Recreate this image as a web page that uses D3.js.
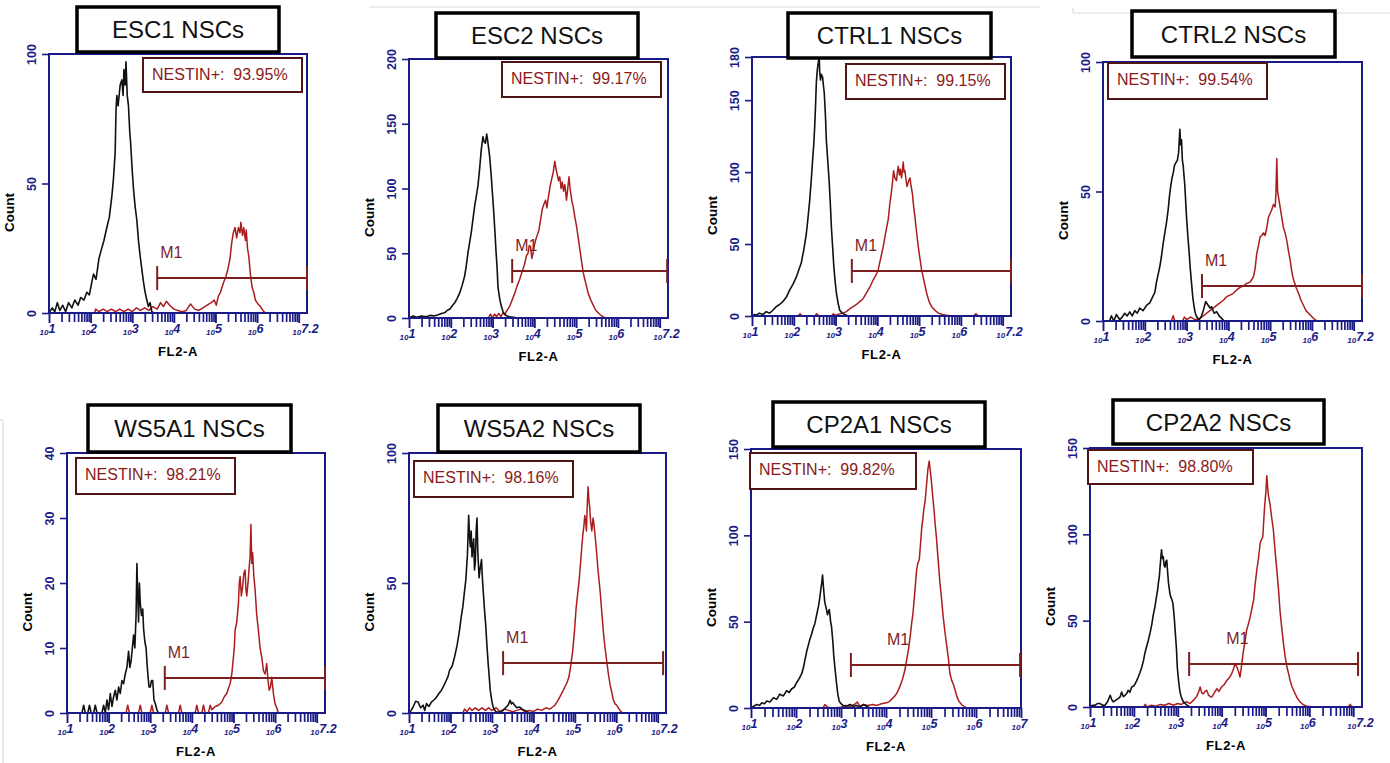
<!DOCTYPE html>
<html>
<head>
<meta charset="utf-8">
<script src="https://cdn.jsdelivr.net/npm/d3@7"></script>
<style>
body{margin:0;background:#fff}
svg{display:block;font-family:"Liberation Sans",Arial,sans-serif}
</style>
</head>
<body>
<svg id="fig" width="1390" height="763"></svg>
<script>
// panel text + axes
var titles = ['ESC1 NSCs','ESC2 NSCs','CTRL1 NSCs','CTRL2 NSCs','WS5A1 NSCs','WS5A2 NSCs','CP2A1 NSCs','CP2A2 NSCs']
var nestin = ['93.95%','99.17%','99.15%','99.54%','98.21%','98.16%','99.82%','98.80%']
var yMaxes = [100,200,180,100,40,100,150,150]
var yTickVals = [[0,50,100],[0,50,100,150,200],[0,50,100,150,180],[0,50,100],[0,10,20,30,40],[0,50,100],[0,50,100,150],[0,50,100,150]]
var xMaxExp = [7.2,7.2,7.2,7.2,7.2,7.2,7,7.2]
// M1 gate (log10 units, count level)
var gateFrom = [3.60,3.47,3.39,3.37,3.35,3.27,3.22,3.26]
var gateTo = [7.2,7.18,7.2,7.2,7.2,7.13,6.98,7.11]
var gateLevel = [13.5,36.3,31.3,13.5,5.4,19.2,24.9,24.9]

// histograms: [log10 FL2-A, count]
var blackEsc1 = [[1.0,0],[1.08,2],[1.14,0.5],[1.2,4],[1.26,1],[1.33,3],[1.4,0.5],[1.47,4],[1.55,2],[1.62,5],[1.7,3],[1.76,6],[1.84,5],[1.91,8],[1.97,7],[2.03,12],[2.07,15],[2.13,13],[2.2,21],[2.25,24],[2.32,28],[2.39,33],[2.45,37],[2.51,45],[2.55,52],[2.59,62],[2.61,78],[2.63,84],[2.66,80],[2.71,88],[2.75,90],[2.78,84],[2.8,94],[2.83,88],[2.85,97],[2.88,84],[2.91,80],[2.94,70],[2.96,66],[3.0,55],[3.03,48],[3.07,41],[3.11,36],[3.15,28],[3.19,22],[3.23,17],[3.27,12],[3.31,8],[3.35,5],[3.39,2.5],[3.43,4],[3.47,0.5],[3.52,0]]
var redEsc1 = [[2.1,0],[2.12,1.5],[2.2,0.5],[2.3,1.5],[2.4,0.5],[2.5,1.5],[2.6,0.5],[2.7,1.5],[2.8,0.5],[2.9,1.5],[3.0,0.5],[3.1,2],[3.2,1],[3.3,2],[3.4,1],[3.5,2.5],[3.6,1.5],[3.68,4],[3.75,2.5],[3.82,4.5],[3.9,3],[4.0,1.5],[4.1,1],[4.2,0.5],[4.3,1],[4.4,3.5],[4.5,1.5],[4.6,1],[4.7,2],[4.8,3],[4.9,4],[4.97,5],[5.02,3],[5.07,6.5],[5.12,8],[5.16,10],[5.2,12],[5.25,14],[5.3,17],[5.35,21],[5.39,27],[5.43,31],[5.47,33],[5.51,29],[5.55,33],[5.59,31],[5.61,35],[5.65,30],[5.68,33],[5.72,28],[5.74,32],[5.77,25],[5.8,22],[5.84,15],[5.88,10],[5.92,8],[5.96,5],[6.02,3.5],[6.08,2.5],[6.14,1],[6.2,0]]
var blackEsc2 = [[1.0,0],[1.1,1.5],[1.18,0.5],[1.3,1.5],[1.41,1],[1.5,2],[1.6,1.5],[1.7,2.5],[1.78,3.5],[1.85,4],[1.92,6],[1.98,7],[2.05,10],[2.1,12],[2.15,15],[2.21,19],[2.27,25],[2.33,32],[2.37,40],[2.41,50],[2.45,58],[2.49,66],[2.53,76],[2.57,86],[2.61,94],[2.65,102],[2.69,115],[2.73,130],[2.77,140],[2.8,136],[2.83,135],[2.86,142],[2.88,138],[2.91,130],[2.93,125],[2.97,109],[3.0,95],[3.03,81],[3.06,65],[3.08,53],[3.11,38],[3.13,24],[3.17,15],[3.21,9],[3.25,5],[3.29,2.6],[3.35,1.5],[3.41,1],[3.5,0.5],[3.6,0]]
var redEsc2 = [[2.9,0],[2.95,3],[3.0,0.5],[3.05,3],[3.1,1],[3.15,3.5],[3.2,1],[3.25,4],[3.3,3],[3.33,5],[3.37,7],[3.41,9],[3.47,14],[3.53,19],[3.59,25],[3.65,30],[3.71,36],[3.77,42],[3.81,48],[3.85,50],[3.88,56],[3.91,55],[3.94,46],[3.97,50],[4.0,56],[4.03,60],[4.07,64],[4.11,68],[4.15,76],[4.19,84],[4.23,88],[4.27,91],[4.3,85],[4.33,92],[4.36,98],[4.38,102],[4.42,108],[4.45,112],[4.49,121],[4.52,115],[4.54,112],[4.58,106],[4.61,109],[4.64,100],[4.67,105],[4.7,98],[4.73,103],[4.77,91],[4.8,100],[4.83,109],[4.86,99],[4.9,90],[4.93,86],[4.97,78],[5.01,71],[5.05,62],[5.09,53],[5.13,44],[5.17,35],[5.23,27],[5.29,19],[5.35,14],[5.41,10],[5.47,6],[5.53,4],[5.58,2.5],[5.64,1],[5.7,0]]
var blackCtrl1 = [[1.0,0],[1.06,1],[1.1,0.5],[1.18,2],[1.26,1],[1.34,3],[1.42,2],[1.5,4],[1.58,6.5],[1.66,8],[1.74,10],[1.82,13],[1.9,18],[1.98,22],[2.06,27],[2.12,32],[2.18,37],[2.24,46],[2.3,57],[2.34,68],[2.38,80],[2.42,95],[2.45,108],[2.48,120],[2.5,131],[2.52,145],[2.54,162],[2.56,170],[2.58,175],[2.61,180],[2.62,170],[2.64,164],[2.66,168],[2.69,166],[2.71,160],[2.73,155],[2.76,138],[2.78,122],[2.82,105],[2.85,92],[2.88,75],[2.9,62],[2.93,48],[2.96,34],[2.99,24],[3.02,16],[3.06,9],[3.1,4],[3.16,2],[3.22,1],[3.3,0]]
var redCtrl1 = [[2.1,0],[2.15,1.5],[2.2,0],[2.5,0],[2.55,1.5],[2.6,0],[2.9,0],[2.95,1.5],[3.0,0.5],[3.1,1.5],[3.18,2],[3.26,3],[3.34,5],[3.42,6.5],[3.5,8],[3.58,10],[3.66,12],[3.74,16],[3.82,20],[3.9,25],[3.96,28],[4.02,32],[4.08,40],[4.14,48],[4.2,58],[4.26,67],[4.3,78],[4.34,87],[4.37,95],[4.39,101],[4.42,96],[4.46,94],[4.48,100],[4.5,104],[4.53,98],[4.55,102],[4.58,96],[4.62,107],[4.64,100],[4.66,101],[4.69,94],[4.71,90],[4.74,93],[4.78,96],[4.81,90],[4.84,85],[4.87,76],[4.9,69],[4.94,58],[4.98,48],[5.02,40],[5.06,32],[5.12,24],[5.18,16],[5.24,10],[5.3,6.5],[5.38,4],[5.46,2],[5.56,1],[5.66,0.5],[5.8,0],[6.3,0],[6.36,1.5],[6.42,0]]
var blackCtrl2 = [[1.16,0],[1.2,2],[1.26,0],[1.32,2.5],[1.4,0.5],[1.46,1.5],[1.52,3],[1.58,2],[1.64,3.5],[1.7,2],[1.76,4],[1.82,3],[1.88,5],[1.96,4],[2.04,6],[2.12,7],[2.18,9],[2.24,11],[2.28,15],[2.32,18],[2.36,21],[2.4,25],[2.44,30],[2.48,34],[2.52,38],[2.56,43],[2.59,48],[2.62,52],[2.65,55],[2.68,57],[2.71,60],[2.74,61],[2.78,62],[2.81,65],[2.84,74],[2.86,68],[2.88,70],[2.9,62],[2.92,60],[2.94,56],[2.96,52],[2.98,46],[3.0,40],[3.03,33],[3.06,27],[3.09,20],[3.12,14.5],[3.15,9],[3.18,5.5],[3.21,3],[3.24,1.7],[3.3,0.4],[3.36,2],[3.4,4],[3.46,7.5],[3.52,6],[3.56,5],[3.6,5.5],[3.66,3],[3.72,3.6],[3.78,2],[3.84,1],[3.9,0]]
var redCtrl2 = [[2.64,0],[2.68,2],[2.72,0],[2.9,0],[2.95,1.5],[3.0,0.5],[3.1,1.5],[3.2,0.5],[3.32,1],[3.4,2],[3.48,3],[3.56,4],[3.64,5],[3.72,6],[3.8,7],[3.88,8],[3.96,9.4],[4.04,10],[4.12,10.7],[4.2,12],[4.28,13],[4.36,13.5],[4.44,14.5],[4.52,15],[4.6,17],[4.64,20],[4.68,26],[4.72,29],[4.76,32.5],[4.8,33],[4.84,34],[4.88,33],[4.92,36],[4.96,40],[5.0,41.5],[5.04,43],[5.08,45],[5.12,44],[5.14,49],[5.16,62.7],[5.18,50],[5.21,47],[5.24,44],[5.28,40],[5.32,36],[5.36,34],[5.4,31],[5.44,27],[5.48,23.5],[5.52,19],[5.56,16],[5.62,13],[5.68,10.7],[5.74,8],[5.8,6],[5.86,4],[5.92,3],[5.98,2],[6.04,1],[6.12,0]]
var blackWs1 = [[1.36,0],[1.4,1.2],[1.44,0],[1.5,0],[1.54,1.2],[1.58,0],[1.64,0],[1.68,1.2],[1.72,0],[1.84,0],[1.88,1.2],[1.92,0],[1.96,2],[2.0,0.5],[2.04,3],[2.08,1],[2.12,2.5],[2.16,3.5],[2.2,2],[2.24,4],[2.28,3],[2.32,5],[2.36,4.5],[2.4,6],[2.44,7],[2.48,9.5],[2.51,7],[2.54,8],[2.57,10],[2.6,12],[2.63,10],[2.66,15],[2.68,23],[2.7,18],[2.72,14],[2.74,20],[2.76,17],[2.79,15],[2.82,16],[2.84,13],[2.87,11],[2.9,10],[2.93,7],[2.97,4],[3.0,4],[3.03,5],[3.06,5],[3.09,2],[3.12,1.5],[3.16,0.5],[3.2,0]]
var redWs1 = [[2.42,0],[2.46,1.2],[2.5,0],[2.72,0],[2.76,1.2],[2.8,0],[3.0,0],[3.04,1.2],[3.08,0],[3.36,0],[3.4,1.2],[3.44,0],[3.68,0],[3.72,1.2],[3.76,0],[4.08,0],[4.12,1.2],[4.16,0],[4.24,0],[4.28,1.2],[4.32,0],[4.4,0],[4.44,1.2],[4.48,0.5],[4.56,1],[4.64,1.2],[4.72,1.7],[4.78,2.5],[4.84,3],[4.88,3.8],[4.92,4.5],[4.96,6],[5.0,8.6],[5.02,10],[5.04,12.7],[5.08,14],[5.12,16.9],[5.14,20],[5.16,21],[5.19,18],[5.22,19.4],[5.25,21.5],[5.28,22],[5.3,19],[5.32,18],[5.35,20],[5.38,22.6],[5.4,24],[5.42,29],[5.44,23],[5.46,24.7],[5.49,21],[5.52,19],[5.56,15],[5.6,12.7],[5.64,10],[5.68,8.6],[5.72,6.5],[5.76,6],[5.8,7.6],[5.83,5],[5.86,3.5],[5.89,4],[5.92,5.5],[5.96,3],[6.0,1.4],[6.04,0.8],[6.08,0]]
var blackWs2 = [[1.0,0],[1.05,1],[1.1,2.3],[1.16,4.5],[1.22,4.2],[1.28,2],[1.34,3],[1.38,1],[1.42,3.6],[1.48,2.5],[1.54,4.2],[1.6,5],[1.66,6],[1.72,7.5],[1.78,8.7],[1.84,10.5],[1.9,12.6],[1.94,14],[1.98,16.5],[2.04,18],[2.1,21.6],[2.16,26],[2.22,32],[2.26,37],[2.3,41],[2.34,47],[2.37,51],[2.39,56],[2.41,61],[2.44,76],[2.46,68],[2.48,64],[2.5,70],[2.52,60],[2.54,64],[2.56,67],[2.58,55],[2.6,58],[2.62,70],[2.64,75],[2.66,62],[2.69,52],[2.72,56],[2.75,59],[2.77,52],[2.79,47],[2.82,40],[2.85,34],[2.88,26],[2.91,19],[2.94,13],[2.96,8.7],[3.0,4.5],[3.03,2.3],[3.07,1],[3.11,0.4],[3.2,0.5],[3.27,1],[3.33,2],[3.39,3],[3.44,4.9],[3.47,3.5],[3.5,4],[3.55,3],[3.6,2],[3.67,2.3],[3.73,1.5],[3.79,1],[3.85,0.5],[3.91,0]]
var redWs2 = [[2.3,0],[2.34,1.5],[2.4,0.5],[2.46,2],[2.52,1],[2.6,2],[2.68,1],[2.76,2],[2.84,1],[2.92,2],[3.0,1],[3.1,2],[3.2,0.5],[3.3,1.5],[3.4,1],[3.5,0.5],[3.6,1],[3.7,1.5],[3.8,0.5],[3.9,1],[4.0,0.5],[4.1,1.5],[4.2,1],[4.3,2],[4.4,1.5],[4.48,2.5],[4.52,3],[4.58,4.5],[4.64,6.2],[4.7,8],[4.76,10],[4.82,12],[4.86,14],[4.9,18],[4.95,24],[4.99,31],[5.03,40],[5.07,46],[5.11,52],[5.15,60],[5.19,68],[5.22,72],[5.24,76],[5.26,74],[5.28,70],[5.3,80],[5.32,87],[5.34,82],[5.36,79],[5.38,74],[5.41,70],[5.44,75],[5.46,73],[5.49,68],[5.52,63],[5.56,55],[5.61,47],[5.65,39],[5.69,31],[5.73,25],[5.77,20],[5.81,15],[5.85,11],[5.89,8],[5.93,5],[5.97,3.5],[6.01,3],[6.05,2],[6.09,1],[6.15,0]]
var blackCp1 = [[1.0,0],[1.06,1],[1.13,2],[1.19,1.5],[1.24,3],[1.3,2.5],[1.35,4],[1.42,3.5],[1.5,6],[1.57,5],[1.64,8],[1.72,7],[1.79,10],[1.85,9],[1.9,11],[1.96,12],[2.01,14.5],[2.07,17],[2.13,20],[2.17,24],[2.2,28],[2.24,33],[2.27,36],[2.31,40],[2.35,43],[2.38,46],[2.42,49],[2.46,54],[2.5,59],[2.53,64],[2.55,68.5],[2.57,72],[2.59,77],[2.61,70],[2.64,61],[2.67,58],[2.7,54],[2.72,56],[2.74,57],[2.77,50],[2.79,47],[2.82,38],[2.84,30],[2.87,22],[2.9,14.5],[2.93,8],[2.96,4],[3.0,2.5],[3.05,1.4],[3.12,1],[3.2,2],[3.27,1],[3.35,1.5],[3.42,0.5],[3.5,2],[3.57,1],[3.64,0]]
var redCp1 = [[2.6,0],[2.64,2],[2.7,0.5],[2.8,0],[3.0,0.5],[3.1,1.5],[3.2,1],[3.3,2],[3.36,3.5],[3.42,1],[3.5,2],[3.6,1.5],[3.7,2],[3.8,1.5],[3.9,2.5],[4.01,3],[4.09,4],[4.14,5.5],[4.2,7],[4.25,9],[4.31,12.5],[4.37,17],[4.42,22],[4.46,28],[4.5,34],[4.54,42],[4.57,49],[4.6,55],[4.62,61],[4.65,70],[4.68,80],[4.71,84],[4.74,86],[4.77,96],[4.79,103],[4.82,110],[4.84,115],[4.87,120],[4.89,126],[4.91,132],[4.93,138],[4.96,143],[4.99,136],[5.01,131],[5.04,122],[5.07,114],[5.09,107],[5.12,99],[5.14,92],[5.17,82],[5.2,72],[5.24,62],[5.27,53],[5.31,44],[5.35,36],[5.39,28],[5.42,20],[5.46,16],[5.5,13.5],[5.54,10],[5.57,7],[5.62,4],[5.68,2],[5.73,1],[5.79,0]]
var blackCp2 = [[1.0,0],[1.06,1],[1.11,1],[1.17,2],[1.23,2],[1.29,1],[1.34,1],[1.4,3],[1.46,6.8],[1.5,4],[1.53,3],[1.59,4],[1.65,5],[1.69,6],[1.72,8.7],[1.76,6],[1.8,6.8],[1.84,8],[1.87,9.7],[1.91,8.5],[1.95,11.6],[1.99,12],[2.03,13.5],[2.06,15],[2.1,17.4],[2.14,20],[2.18,23],[2.22,27],[2.25,31],[2.29,35],[2.33,38.7],[2.37,43],[2.41,48],[2.44,53],[2.48,58],[2.51,63],[2.54,67.7],[2.56,72],[2.58,75.4],[2.6,82],[2.63,91],[2.65,86],[2.67,87],[2.69,82],[2.71,81],[2.73,84],[2.75,85],[2.77,78],[2.79,71.6],[2.82,66],[2.84,63.8],[2.87,62],[2.89,60],[2.92,52],[2.94,44.5],[2.97,34],[2.99,23],[3.02,15],[3.05,8.7],[3.09,5],[3.13,3],[3.17,2],[3.21,1],[3.28,0]]
var redCp2 = [[2.22,0],[2.26,1.5],[2.3,0],[2.4,1],[2.5,0.5],[2.6,1.5],[2.7,1],[2.8,2],[2.9,1],[3.0,2],[3.08,1.5],[3.15,2.5],[3.21,3],[3.28,2],[3.36,4],[3.43,6],[3.48,9],[3.51,11.6],[3.55,8],[3.59,7.7],[3.62,9],[3.66,9.7],[3.7,7],[3.74,6],[3.78,5.8],[3.83,8],[3.89,10.6],[3.94,9],[4.0,11.6],[4.06,13],[4.12,15.5],[4.18,17],[4.23,19.3],[4.27,22],[4.31,25],[4.35,23],[4.38,21],[4.42,17.4],[4.46,25],[4.5,33],[4.54,39],[4.57,44.5],[4.61,48],[4.65,52],[4.69,57],[4.73,62],[4.76,70],[4.8,79],[4.84,86],[4.88,95],[4.91,97],[4.94,98.6],[4.96,108],[4.98,116],[5.01,125],[5.03,134],[5.05,127],[5.07,122],[5.1,118],[5.12,114],[5.15,108],[5.18,102.5],[5.22,90],[5.26,79],[5.3,67],[5.33,56],[5.37,46],[5.41,36.7],[5.45,29],[5.49,23],[5.53,19],[5.56,15.5],[5.6,12],[5.64,9.7],[5.68,7.5],[5.71,5.8],[5.77,3.5],[5.83,2],[5.89,1],[5.94,0.4],[6.1,0],[6.88,0],[6.93,1.5],[6.98,0]]

var blackSeries = [blackEsc1,blackEsc2,blackCtrl1,blackCtrl2,blackWs1,blackWs2,blackCp1,blackCp2]
var redSeries = [redEsc1,redEsc2,redCtrl1,redCtrl2,redWs1,redWs2,redCp1,redCp2]

// page layout: plot rect [l,t,r,b], title box, nestin box, M1 label offset
var layout = [
	{plot:[49,54,307,313], title:[77,7,279,52], box:[143,58,302,92], m1dx:3},
	{plot:[409,59,668,318], title:[436,13,638,58], box:[502,62,661,97], m1dx:3},
	{plot:[752,57,1011,316], title:[788,13,991,58], box:[846,64,1005,99], m1dx:3},
	{plot:[1103,62,1362,321], title:[1132,11,1335,57], box:[1108,63,1267,99], m1dx:3},
	{plot:[67,453,325,713], title:[88,405,291,452], box:[76,458,235,494], m1dx:3},
	{plot:[409,453,666,713], title:[438,405,640,452], box:[414,461,573,497], m1dx:3},
	{plot:[751,449,1021,708], title:[773,402,985,447], box:[750,453,916,489], m1dx:36},
	{plot:[1090,448,1362,707], title:[1113,400,1324,444], box:[1088,450,1253,484], m1dx:37}
]

var navy = '#1b1b87'
var redLine = '#ab1d1d'
var maroon = '#7d1f1f'
var svg = d3.select('#fig')

// faint scan edges
var edges = [[369,7,1040,7],[1073,13,1390,13],[1073,8,1073,13],[3,420,3,763],[0,420,3,420]]
svg.selectAll('line.edge').data(edges).enter().append('line').attr('class','edge')
	.attr('x1',d=>d[0]).attr('y1',d=>d[1]).attr('x2',d=>d[2]).attr('y2',d=>d[3])
	.attr('stroke','#dcdcdc').attr('stroke-width',1.2)

function draw(i){
	var L = layout[i]
	var l = L.plot[0], t = L.plot[1], r = L.plot[2], b = L.plot[3]
	var xmax = xMaxExp[i]
	var x = d3.scaleLog().domain([10, Math.pow(10,xmax)]).range([l,r])
	var y = d3.scaleLinear().domain([0, yMaxes[i]]).range([b,t])
	var g = svg.append('g').attr('class','panel'+i)

	g.append('clipPath').attr('id','clip'+i).append('rect')
		.attr('x',l).attr('y',t-1).attr('width',r-l).attr('height',b-t+1)

	// minor / major log ticks
	var minor = [], major = []
	for (var k=1;k<=Math.floor(xmax);k++){
		for (var m=1;m<10;m++){
			var v = m*Math.pow(10,k)
			if (Math.log10(v) <= xmax+1e-9) (m==1 ? major : minor).push(v)
		}
	}
	var xa = g.append('g').attr('transform','translate(0,'+b+')')
		.call(d3.axisBottom(x).tickValues(minor).tickFormat('').tickSize(9).tickSizeOuter(0))
	xa.select('.domain').remove()
	xa.selectAll('line').attr('stroke',navy).attr('stroke-width',1.7)
	var xm = g.append('g').attr('transform','translate(0,'+b+')')
		.call(d3.axisBottom(x).tickValues(major).tickFormat('').tickSize(10).tickSizeOuter(0))
	xm.select('.domain').remove()
	xm.selectAll('line').attr('stroke',navy).attr('stroke-width',1.9)

	// decade labels like 10^1 ... 10^7.2
	var labExps = d3.range(1, Math.floor(xmax)).concat([xmax])
	var xl = g.append('g').attr('transform','translate(0,'+b+')')
		.call(d3.axisBottom(x).tickValues(labExps.map(e=>Math.pow(10,e))).tickSize(0).tickFormat(''))
	xl.select('.domain').remove()
	xl.selectAll('text').each(function(d,j){
		var tx = d3.select(this).attr('y',20).attr('dy',null).attr('dx',-2)
			.attr('text-anchor','middle').attr('fill',navy)
			.attr('font-family','"Liberation Sans",Arial,sans-serif')
			.attr('font-weight','bold').attr('font-style','italic')
		tx.append('tspan').attr('font-size',8).attr('dy',2).text('10')
		tx.append('tspan').attr('font-size',12.5).attr('dy',-2).text(labExps[j])
	})

	// y axis: short ticks, rotated labels
	var ya = g.append('g').attr('transform','translate('+l+',0)')
		.call(d3.axisLeft(y).tickValues(yTickVals[i]).tickSize(7).tickFormat(d3.format('d')))
	ya.select('.domain').remove()
	ya.attr('font-family','"Liberation Sans",Arial,sans-serif').attr('font-size',12.5)
	ya.selectAll('line').attr('stroke',navy).attr('stroke-width',1.6)
	ya.selectAll('text').attr('transform','rotate(-90)').attr('x',0).attr('y',-13)
		.attr('dy',null).attr('text-anchor','middle').attr('fill',navy).attr('font-weight','bold')

	// curves
	var line = d3.line().x(d=>x(Math.pow(10,d[0]))).y(d=>y(d[1]))
	var cg = g.append('g').attr('clip-path','url(#clip'+i+')')
	cg.append('path').datum(redSeries[i]).attr('d',line)
		.attr('fill','none').attr('stroke',redLine).attr('stroke-width',1.5).attr('stroke-linejoin','round')
	cg.append('path').datum(blackSeries[i]).attr('d',line)
		.attr('fill','none').attr('stroke','#111').attr('stroke-width',1.6).attr('stroke-linejoin','round')

	// frame
	g.append('rect').attr('x',l).attr('y',t).attr('width',r-l).attr('height',b-t)
		.attr('fill','none').attr('stroke',navy).attr('stroke-width',2)

	// M1 gate
	var gx0 = x(Math.pow(10,gateFrom[i])), gx1 = x(Math.pow(10,gateTo[i])), gy = y(gateLevel[i])
	var gate = g.append('g').attr('stroke',maroon).attr('stroke-width',2)
	gate.append('line').attr('x1',gx0).attr('x2',gx1).attr('y1',gy).attr('y2',gy)
	gate.append('line').attr('x1',gx0).attr('x2',gx0).attr('y1',gy-12).attr('y2',gy+12)
	gate.append('line').attr('x1',gx1).attr('x2',gx1).attr('y1',gy-12).attr('y2',gy+12)
	g.append('text').attr('x',gx0+L.m1dx).attr('y',gy-20).attr('fill',maroon)
		.attr('font-size',16).text('M1')

	// axis titles
	g.append('text').attr('x',(l+r)/2).attr('y',b+43).attr('text-anchor','middle')
		.attr('font-size',13).attr('font-weight','bold').attr('letter-spacing',0.6).text('FL2-A')
	g.append('text').attr('transform','translate('+(l-35)+','+((t+b)/2+29)+') rotate(-90)')
		.attr('text-anchor','middle').attr('font-size',13.5).attr('font-weight','bold').text('Count')

	// NESTIN box
	var bx = L.box
	g.append('rect').attr('x',bx[0]).attr('y',bx[1]).attr('width',bx[2]-bx[0]).attr('height',bx[3]-bx[1])
		.attr('fill','#fff').attr('stroke','#4e1616').attr('stroke-width',2)
	g.append('text').attr('x',bx[0]+9).attr('y',bx[1]+22).attr('fill','#8b1a1a')
		.attr('font-size',16).attr('xml:space','preserve').text('NESTIN+:  '+nestin[i])

	// title box
	var tb = L.title
	g.append('rect').attr('x',tb[0]).attr('y',tb[1]).attr('width',tb[2]-tb[0]).attr('height',tb[3]-tb[1])
		.attr('fill','#fff').attr('stroke','#000').attr('stroke-width',3.5)
	g.append('text').attr('x',(tb[0]+tb[2])/2).attr('y',(tb[1]+tb[3])/2+8.5)
		.attr('text-anchor','middle').attr('font-size',24).attr('fill','#111').text(titles[i])
}

for (var i=0;i<8;i++) draw(i)
</script>
</body>
</html>
